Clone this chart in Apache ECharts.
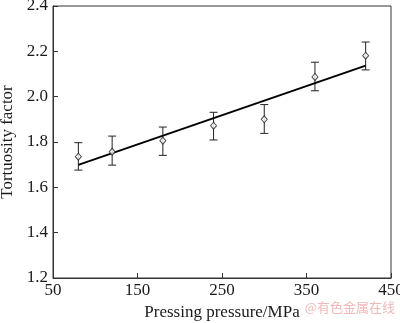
<!DOCTYPE html>
<html>
<head>
<meta charset="utf-8">
<script src="https://cdn.jsdelivr.net/npm/echarts@6/dist/echarts.min.js"></script>
<style>html,body{margin:0;padding:0;background:#fff}#c{width:400px;height:323px}</style>
</head>
<body>
<div id="c"></div>
<script>
var pressures = [80, 120, 180, 240, 300, 360, 420];
var tortuosity = [1.735, 1.757, 1.806, 1.872, 1.900, 2.087, 2.181];
var errLow = [1.676, 1.698, 1.741, 1.809, 1.838, 2.026, 2.118];
var errHigh = [1.797, 1.826, 1.866, 1.931, 1.965, 2.152, 2.241];
var fitX = [80, 420];
var fitY = [1.699, 2.137];

var chart = echarts.init(document.getElementById('c'), null, {renderer: 'canvas'});
var font = '"Liberation Serif", "Times New Roman", serif';
var pts = pressures.map(function (p, i) { return [p, tortuosity[i]]; });
var errs = pressures.map(function (p, i) { return [p, errLow[i], errHigh[i]]; });
var fit = fitX.map(function (x, i) { return [x, fitY[i]]; });

chart.setOption({
  animation: false,
  grid: {left: 53, right: 9, top: 6, bottom: 45, containLabel: false, outerBoundsMode: 'none',
         show: true, borderColor: '#333', borderWidth: 1, backgroundColor: 'transparent'},
  xAxis: {
    type: 'value', min: 50, max: 450, interval: 100,
    name: 'Pressing pressure/MPa', nameLocation: 'middle', nameGap: 19,
    nameTextStyle: {fontFamily: font, fontSize: 17, color: '#1a1a1a'},
    axisLine: {lineStyle: {color: '#333'}},
    axisTick: {inside: true, length: 5, lineStyle: {color: '#333'}},
    axisLabel: {fontFamily: font, fontSize: 17, color: '#1a1a1a', margin: 4},
    splitLine: {show: false}
  },
  yAxis: {
    type: 'value', min: 1.2, max: 2.4, interval: 0.2,
    name: 'Tortuosity factor', nameLocation: 'middle', nameGap: 33,
    nameTextStyle: {fontFamily: font, fontSize: 17, color: '#1a1a1a'},
    axisLine: {show: true, lineStyle: {color: '#333'}},
    axisTick: {show: true, inside: true, length: 5, lineStyle: {color: '#333'}},
    axisLabel: {fontFamily: font, fontSize: 17, color: '#1a1a1a', margin: 5, formatter: function (v) { return v.toFixed(1); }},
    splitLine: {show: false}
  },
  graphic: [{
    type: 'text', right: 5, bottom: 9,
    style: {text: '@有色金属在线', fill: '#f0b8b8', font: '13px "Noto Sans CJK SC", sans-serif'}
  }],
  series: [
    {
      type: 'custom',
      data: errs,
      renderItem: function (params, api) {
        var x = api.value(0);
        var lo = api.coord([x, api.value(1)]);
        var hi = api.coord([x, api.value(2)]);
        var w = 4;
        return {
          type: 'group',
          children: [
            {type: 'line', shape: {x1: lo[0], y1: lo[1], x2: hi[0], y2: hi[1]}, style: {stroke: '#222', lineWidth: 1}},
            {type: 'line', shape: {x1: lo[0] - w, y1: lo[1], x2: lo[0] + w, y2: lo[1]}, style: {stroke: '#222', lineWidth: 1}},
            {type: 'line', shape: {x1: hi[0] - w, y1: hi[1], x2: hi[0] + w, y2: hi[1]}, style: {stroke: '#222', lineWidth: 1}}
          ]
        };
      },
      z: 2
    },
    {
      type: 'line', data: fit, symbol: 'none',
      lineStyle: {color: '#000', width: 2}, z: 3
    },
    {
      type: 'scatter', data: pts, symbol: 'diamond', symbolSize: [6, 7],
      itemStyle: {color: '#fff', borderColor: '#222', borderWidth: 1}, z: 4
    }
  ]
});
</script>
</body>
</html>
